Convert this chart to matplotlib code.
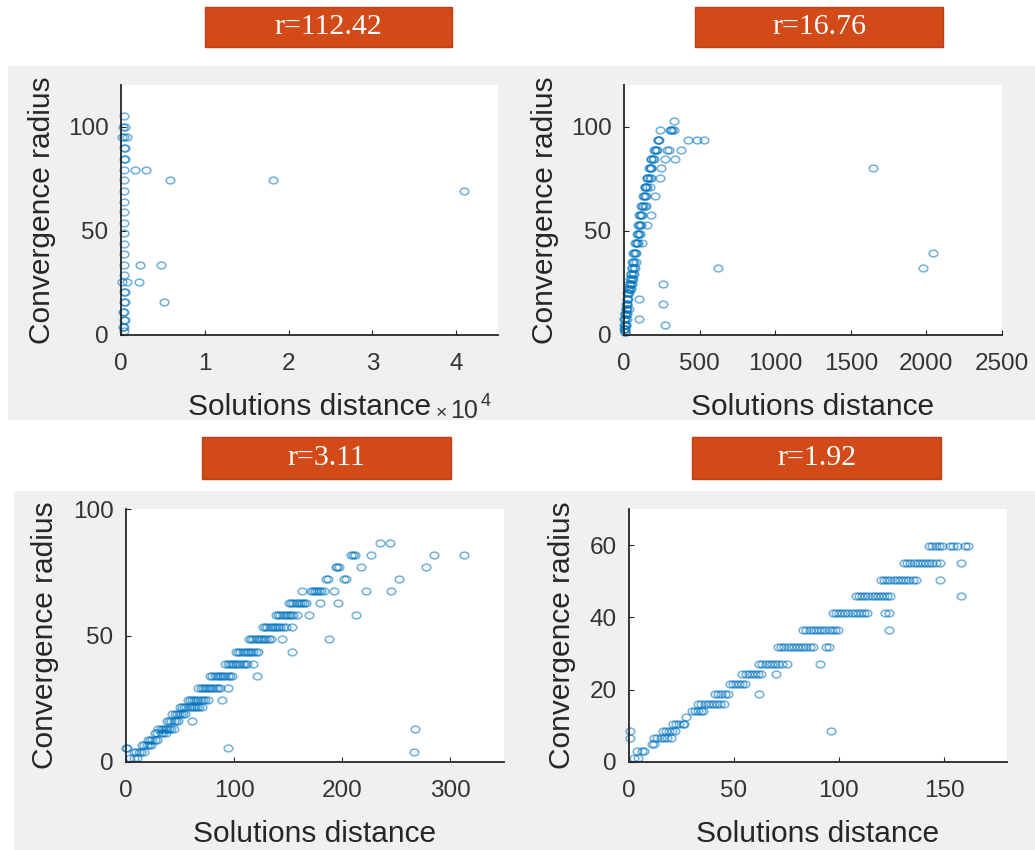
import numpy as np
import matplotlib
matplotlib.use("Agg")
import matplotlib.pyplot as plt
from matplotlib.patches import Rectangle
from matplotlib.path import Path

plt.rcParams['font.family'] = ['Liberation Sans', 'DejaVu Sans']

W, H = 1035, 850

# ---- data: convergence radius levels and the solution distances found on each ----
titles = ['r=112.42', 'r=16.76', 'r=3.11', 'r=1.92']

radius_a = [105.1, 100.0, 94.9, 89.6, 84.3, 79.2, 74.4, 69.3, 64.0, 59.2, 53.9,
            48.8, 43.7, 38.7, 33.6, 28.8, 25.6, 20.8, 16.0, 11.2, 7.2, 4.0, 2.0]
dist_a = [[300], [250, 450], [160, 350, 675], [300, 500], [350, 450],
          [350, 1700, 2980], [400, 5870, 18100], [350, 40950], [300], [350], [300],
          [350], [300], [350], [300, 2260, 4800], [350], [150, 750, 2100],
          [300, 450], [300, 500, 5080], [250, 400], [300, 450], [250, 400], [300]]

radius_b = [102.7, 98.2, 93.7, 89.0, 84.5, 80.0, 75.5, 71.0, 66.5, 62.0, 57.5, 53.0,
            48.6, 44.1, 39.5, 35.1, 32.2, 29.5, 27.0, 24.5, 22.0, 20.0, 17.5, 15.0,
            12.5, 10.0, 7.5, 5.0, 3.0, 1.5]
dist_b = [[331], [236, 305, 312, 320, 331], [222, 227, 231, 425, 481, 531],
          [198, 203, 212, 220, 287, 295, 379], [176, 181, 190, 198, 269, 335],
          [165, 170, 176, 181, 247], [150, 154, 162, 170, 181, 236],
          [137, 141, 148, 154, 170], [128, 132, 140, 148, 207],
          [115, 119, 127, 137, 148], [102, 106, 112, 119, 181], [93, 97, 105, 115, 154],
          [88, 93, 100, 106], [72, 77, 85, 93, 119], [62, 66, 74, 82, 2041],
          [52, 57, 66, 82], [50, 55, 63, 71, 622, 1980], [45, 49, 57, 66],
          [40, 44, 52, 60], [33, 37, 45, 53, 258], [27, 31, 38, 44],
          [22, 26, 32], [18, 22, 27, 97], [14, 18, 23, 258], [10, 13, 18, 30],
          [6, 9, 14, 22], [2, 4, 9, 20, 99], [2, 4, 10, 15, 269],
          [2, 4, 8], [4, 9]]
radius_b_extra = [80.0]
dist_b_extra = [1649]

radius_c = [86.6, 81.8, 77.1, 72.3, 67.6, 62.7, 58.0, 53.2, 48.5, 43.6, 38.9, 34.1,
            29.4, 24.6, 21.7, 19.0, 16.1, 13.2, 11.3, 8.7, 6.7, 5.7, 3.8, 1.4]
dist_c = [[235, 244], [208, 210, 212, 227, 285, 313], [194, 195, 197, 218, 278],
          [185, 187, 202, 204, 253],
          [163, 171, 173, 175, 177, 179, 181, 183, 193, 222, 245],
          [151, 153, 155, 157, 159, 161, 163, 165, 167, 180, 196],
          [139, 141, 143, 145, 147, 149, 151, 153, 155, 158, 169, 213],
          [127, 129, 131, 133, 135, 137, 139, 141, 143, 145, 148, 154],
          [114, 116, 118, 120, 122, 124, 126, 128, 130, 132, 134, 144, 188],
          [102, 104, 106, 108, 110, 112, 114, 116, 118, 120, 122, 154],
          [92, 94, 96, 98, 100, 102, 104, 106, 108, 110, 112, 118],
          [78, 80, 82, 84, 86, 88, 90, 92, 94, 96, 98, 121],
          [67, 69, 71, 73, 75, 77, 79, 81, 83, 85, 87, 94],
          [57, 59, 61, 63, 65, 67, 69, 71, 73, 76, 89],
          [50, 52, 54, 56, 58, 60, 62, 64, 66, 68, 70],
          [43, 45, 47, 49, 51, 53, 55],
          [38, 40, 42, 44, 46, 48, 61],
          [30, 32, 34, 36, 38, 40, 42, 44, 268],
          [27, 29, 32, 34, 37],
          [20, 22, 24, 27, 29],
          [15, 17, 19, 21, 23],
          [0, 1, 94],
          [7, 9, 12, 14, 17, 267],
          [4, 7, 10]]

radius_d = [59.7, 55.1, 50.4, 45.8, 41.1, 36.4, 31.8, 27.2, 24.4, 21.6, 18.8, 16.1,
            14.2, 12.4, 10.4, 8.6, 6.7, 4.9, 3.0, 1.2]
dist_d = [[143, 144.5, 146, 147.5, 149, 153, 154.5, 156, 160, 161.5],
          [131, 132.5, 134, 135.5, 137, 138.5, 140, 141.5, 143, 144.5, 146, 148, 158],
          [120, 121.5, 123, 124.5, 126, 127.5, 129, 130.5, 132, 133.5, 135, 136.5, 148],
          [108, 109.5, 111, 112.5, 114, 115.5, 117, 118.5, 120, 121.5, 123, 124.5, 158],
          [97, 98.5, 100, 101.5, 103, 104.5, 106, 107.5, 109, 110.5, 112, 113.5, 122, 124],
          [83, 84.5, 86, 87.5, 89, 90.5, 92, 93.5, 95, 96.5, 98, 99.5, 124],
          [71, 72.5, 74, 75.5, 77, 78.5, 80, 81.5, 83, 84.5, 86, 87.5, 94, 95],
          [62, 63.5, 65, 66.5, 68, 69.5, 71, 73, 75, 91],
          [54, 55.5, 57, 58.5, 60, 61.5, 63, 70],
          [48, 49.5, 51, 52.5, 54, 55],
          [41, 42.5, 44, 45.5, 47, 62],
          [33, 34.5, 36, 37.5, 39, 40.5, 42, 43.5, 45],
          [30, 31.5, 33, 34.5, 35],
          [27],
          [21, 22.5, 24, 25.5, 26],
          [0.5, 16, 17.5, 19, 20.5, 22, 96],
          [0.3, 12, 13.5, 15, 16.5, 18, 20],
          [11, 12],
          [4, 6, 7],
          [2.5, 4.5]]


def flatten(levels, rows):
    xs = [d for row in rows for d in row]
    ys = [lv for lv, row in zip(levels, rows) for _ in row]
    return xs, ys


# axes boxes in pixels: left, right, top, bottom
boxes = [(121, 498, 85, 335), (624, 1002, 85, 335),
         (126, 504, 509, 762), (629, 1007, 509, 762)]
title_boxes = [(205, 452, 7, 47), (695, 943, 7, 47),
               (202, 451, 437, 479), (692, 941, 437, 479)]
xlims = [(0, 45000), (0, 2500), (0, 350), (0, 180)]
ylims = [(0, 120), (0, 120), (0, 100), (0, 70)]
xticks = [[0, 10000, 20000, 30000, 40000], [0, 500, 1000, 1500, 2000, 2500],
          [0, 100, 200, 300], [0, 50, 100, 150]]
yticks = [[0, 50, 100], [0, 50, 100], [0, 50, 100], [0, 20, 40, 60]]
ylabel_x = [-0.21, -0.21, -0.214, -0.178]

t = np.linspace(0, 2 * np.pi, 41)
oval = Path(np.column_stack([np.cos(t), 0.78 * np.sin(t)]), closed=True)

fig = plt.figure(figsize=(W / 100, H / 100), dpi=100)
fig.patch.set_facecolor('white')

# gray figure panels
for (x0, x1, y0, y1) in [(8, 1035, 66, 420), (14, 1035, 491, 850)]:
    fig.patches.append(Rectangle((x0 / W, 1 - y1 / H), (x1 - x0) / W, (y1 - y0) / H,
                                 transform=fig.transFigure, facecolor='#f0f0f0',
                                 edgecolor='none', zorder=-1))

data = [flatten(radius_a, dist_a), flatten(radius_b, dist_b),
        flatten(radius_c, dist_c), flatten(radius_d, dist_d)]
data[1][0].extend(dist_b_extra)
data[1][1].extend(radius_b_extra)

for i, (l, r, tp, b) in enumerate(boxes):
    ax = fig.add_axes([l / W, 1 - b / H, (r - l) / W, (b - tp) / H])
    ax.set_facecolor('white')
    xs, ys = data[i]
    ax.plot(xs, ys, linestyle='none', marker=oval, markersize=6.2,
            markerfacecolor='none', markeredgecolor=(0, 0.447, 0.741, 0.55),
            markeredgewidth=1.15, clip_on=False)
    ax.set_xlim(*xlims[i])
    ax.set_ylim(*ylims[i])
    ax.set_xticks(xticks[i])
    ax.set_yticks(yticks[i])
    if i == 0:
        ax.set_xticklabels(['0', '1', '2', '3', '4'])
    for s in ['top', 'right']:
        ax.spines[s].set_visible(False)
    for s in ['left', 'bottom']:
        ax.spines[s].set_color('#262626')
        ax.spines[s].set_linewidth(1.3)
    ax.tick_params(direction='in', length=3.5, width=0.8, colors='#262626',
                   labelcolor='#333333', labelsize=17.5)
    ax.tick_params(axis='x', pad=13)
    ax.tick_params(axis='y', pad=9)
    ax.set_xlabel('Solutions distance', fontsize=21.5, color='#262626', va='baseline')
    ax.xaxis.set_label_coords(0.5, -80 / (b - tp))
    ax.set_ylabel('Convergence radius', fontsize=21.5, color='#262626', va='center')
    ax.yaxis.set_label_coords(ylabel_x[i], 0.5)

    # coloured title tag above each panel
    bx0, bx1, by0, by1 = title_boxes[i]
    fig.patches.append(Rectangle((bx0 / W, 1 - by1 / H), (bx1 - bx0) / W, (by1 - by0) / H,
                                 transform=fig.transFigure, facecolor='#d24a18',
                                 edgecolor='#b8401a', linewidth=1.0, zorder=2))
    fig.text((bx0 + bx1) / 2 / W, 1 - (by0 + by1) / 2 / H, titles[i],
             family=['Liberation Serif', 'DejaVu Serif'], fontsize=21.5, color='white',
             ha='center', va='center', zorder=3)

# exponent of the first panel's x axis
fig.text(436 / W, 1 - 418 / H, '\u00d7', fontsize=14, color='#333333',
         ha='left', va='baseline')
fig.text(450 / W, 1 - 418 / H, '10', fontsize=18, color='#333333',
         ha='left', va='baseline')
fig.text(481 / W, 1 - 406 / H, '4', fontsize=13, color='#333333',
         ha='left', va='baseline')

fig.savefig('out.png', dpi=100)
